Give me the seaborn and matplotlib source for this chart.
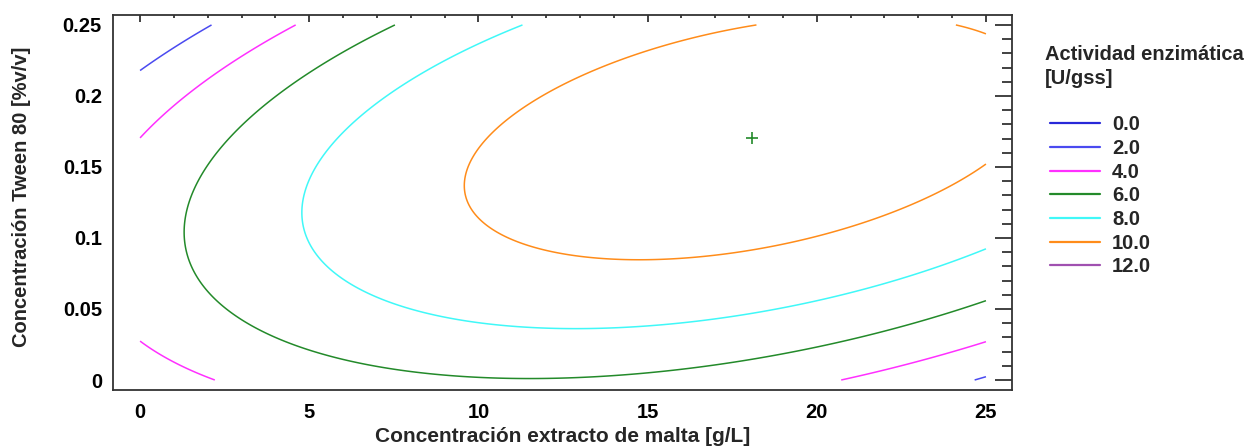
import numpy as np
import matplotlib
matplotlib.use("Agg")
import matplotlib.pyplot as plt
from matplotlib.lines import Line2D
from matplotlib.ticker import MultipleLocator, FormatStrFormatter
import seaborn as sns

# Contour levels of enzymatic activity [U/gss] and their line colours
levels = [0.0, 2.0, 4.0, 6.0, 8.0, 10.0, 12.0]
level_labels = ["0.0", "2.0", "4.0", "6.0", "8.0", "10.0", "12.0"]
level_colors = ["#2828d8", "#4a4af0", "#ff30ff", "#238a2a", "#40f8f8", "#ff8c1a", "#a050b0"]

# Experimental region
malta_range = [0.0, 25.0]      # g/L malt extract
tween_range = [0.0, 0.25]      # %v/v Tween 80

# Fitted second-order response surface (canonical form)
optimum = [18.08, 0.1705]      # stationary point (malt, Tween)
max_activity = 11.38           # predicted activity at optimum
curvature = [[0.02258, -0.876],
             [-0.876, 221.3]]  # quadratic form matrix

sns.set_style("white")
plt.rcParams["font.family"] = ["Liberation Sans", "DejaVu Sans"]
plt.rcParams["font.weight"] = "bold"

fig = plt.figure(figsize=(12.51, 4.46), dpi=100)
W, H = 1251, 446
ax = fig.add_axes([113 / W, 1 - 390 / H, (1012 - 113) / W, (390 - 15) / H])

# Evaluate the response surface on a grid covering the region
xs = np.linspace(malta_range[0], malta_range[1], 400)
ys = np.linspace(tween_range[0], tween_range[1], 400)
X, Y = np.meshgrid(xs, ys)
dx = X - optimum[0]
dy = Y - optimum[1]
(a, b), (_, c) = curvature
Z = max_activity - (a * dx ** 2 + 2 * b * dx * dy + c * dy ** 2)

ax.contour(X, Y, Z, levels=levels, colors=level_colors, linewidths=1.1)
sns.scatterplot(x=[optimum[0]], y=[optimum[1]], marker="+", s=70,
                color="#238a2a", linewidth=1.2, ax=ax, legend=False)

ax.set_xlim(-0.8, 25.77)
ax.set_ylim(-0.00704, 0.257)

ax.xaxis.set_major_locator(MultipleLocator(5))
ax.xaxis.set_minor_locator(MultipleLocator(1))
ax.yaxis.set_major_locator(MultipleLocator(0.05))
ax.yaxis.set_minor_locator(MultipleLocator(0.01))
ax.xaxis.set_major_formatter(FormatStrFormatter("%g"))
ax.yaxis.set_major_formatter(FormatStrFormatter("%g"))

tick_col = "#333333"
ax.tick_params(which="both", direction="in", top=True, right=True,
               color=tick_col, labelsize=14.5, labelcolor="black")
ax.tick_params(axis="y", which="major", length=12.6, width=1.3, pad=8)
ax.tick_params(axis="y", which="minor", length=7.2, width=1.3)
ax.tick_params(axis="x", which="major", length=5.0, width=1.3, pad=9)
ax.tick_params(axis="x", which="minor", length=2.2, width=1.3)
for lab in ax.get_xticklabels() + ax.get_yticklabels():
    lab.set_fontweight("bold")
for sp in ax.spines.values():
    sp.set_color(tick_col)
    sp.set_linewidth(1.3)

ax.set_xlabel("Concentración extracto de malta [g/L]", fontsize=15, fontweight="bold")
ax.set_ylabel("Concentración Tween 80 [%v/v]", fontsize=14.5, fontweight="bold")
ax.xaxis.label.set_va("center")
ax.yaxis.label.set_va("center")
ax.xaxis.set_label_coords(0.5, (390 - 437) / 375)
ax.yaxis.set_label_coords((22 - 113) / 899, (390 - 197) / 375)

# Legend title and entries
fig.text(1045 / W, 1 - 54 / H, "Actividad enzimática", fontsize=14.5,
         fontweight="bold", ha="left", va="center")
fig.text(1045 / W, 1 - 79 / H, "[U/gss]", fontsize=14.5,
         fontweight="bold", ha="left", va="center")
handles = [Line2D([0], [0], color=col, linewidth=1.6) for col in level_colors]
leg = fig.legend(handles, level_labels, loc="upper left",
                 bbox_to_anchor=(1050 / W, 1 - 115.5 / H), frameon=False,
                 handlelength=2.49, handletextpad=0.6,
                 labelspacing=0.23, borderpad=0, borderaxespad=0,
                 prop={"weight": "bold", "size": 14.5})

fig.savefig("out.png", dpi=100)
